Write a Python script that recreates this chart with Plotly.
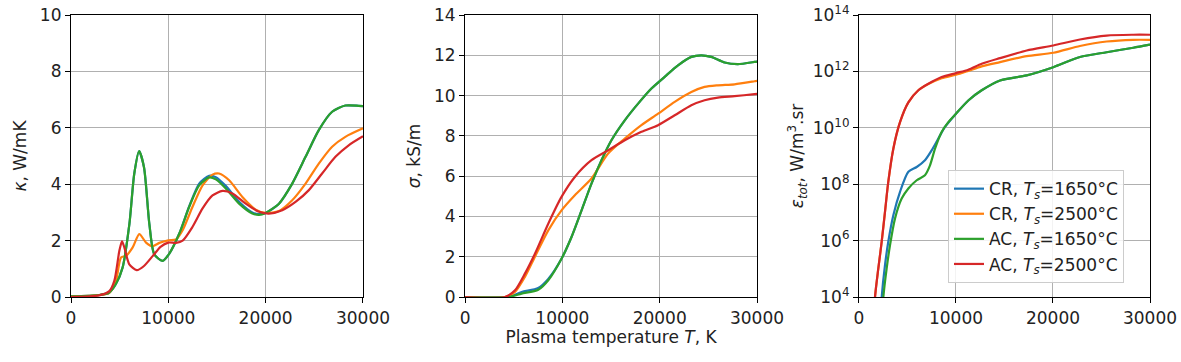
import plotly.graph_objects as go

names = ["CR, <i>T<sub>s</sub></i>=1650°C", "CR, <i>T<sub>s</sub></i>=2500°C",
         "AC, <i>T<sub>s</sub></i>=1650°C", "AC, <i>T<sub>s</sub></i>=2500°C"]
colors = ["#1f77b4", "#ff7f0e", "#2ca02c", "#d62728"]

# Panel 1: thermal conductivity kappa (W/mK)
k_T_green = [0, 2900, 3900, 4600, 5300, 6000, 6500, 7000, 7500, 8050, 8550, 9400, 10100, 11130, 12150, 13170, 14200, 14880, 15900, 17270, 18630, 19320, 20000, 21370, 22730, 24100, 25460, 26830, 28190, 29560, 30000]
k_green = [0.02, 0.07, 0.15, 0.45, 1.04, 2.59, 4.37, 5.17, 4.6, 2.59, 1.52, 1.28, 1.54, 2.25, 3.2, 3.96, 4.24, 4.17, 3.85, 3.31, 2.96, 2.91, 2.98, 3.31, 4.02, 4.97, 5.92, 6.57, 6.79, 6.78, 6.77]
k_blue = [0.02, 0.07, 0.15, 0.45, 1.04, 2.59, 4.37, 5.17, 4.6, 2.59, 1.52, 1.28, 1.54, 2.25, 3.22, 4.02, 4.3, 4.25, 3.94, 3.38, 3.0, 2.94, 2.98, 3.31, 4.02, 4.97, 5.92, 6.57, 6.79, 6.78, 6.77]
k_T_orange = [0, 2900, 3940, 4620, 5140, 5650, 6340, 7020, 7710, 8390, 9080, 10000, 10780, 11470, 12490, 13520, 14540, 15220, 16250, 17610, 18980, 20000, 21370, 22730, 24100, 25460, 26830, 28190, 30000]
k_orange = [0.02, 0.07, 0.15, 0.57, 1.4, 1.46, 1.76, 2.23, 1.93, 1.8, 1.92, 2.01, 2.04, 2.37, 3.2, 3.96, 4.34, 4.38, 4.14, 3.55, 3.1, 2.98, 3.05, 3.43, 4.02, 4.73, 5.33, 5.68, 5.98]
k_T_red = [0, 2900, 3940, 4450, 4970, 5240, 5480, 5990, 6750, 7500, 8390, 9200, 10000, 10780, 11470, 12490, 13520, 14540, 15560, 16590, 17950, 19320, 20340, 21710, 23070, 24440, 25800, 27170, 28530, 30000]
k_red = [0.0, 0.06, 0.21, 0.57, 1.64, 1.97, 1.76, 1.16, 0.95, 1.1, 1.45, 1.78, 1.93, 1.92, 2.0, 2.49, 3.14, 3.6, 3.76, 3.67, 3.31, 3.02, 2.96, 3.08, 3.37, 3.79, 4.38, 4.97, 5.38, 5.7]

# Panel 2: electrical conductivity sigma (kS/m)
s_T_green = [0, 4440, 5810, 7520, 8550, 9910, 10940, 11970, 12990, 14020, 15040, 16410, 17780, 19150, 20510, 21880, 23250, 24270, 25300, 26670, 28030, 29740, 30000]
s_green = [0, 0.0, 0.17, 0.36, 0.83, 1.9, 2.98, 4.3, 5.63, 6.79, 7.78, 8.77, 9.6, 10.35, 10.93, 11.5, 11.92, 12.0, 11.92, 11.64, 11.56, 11.67, 11.69]
s_blue = [0, 0.0, 0.25, 0.45, 0.9, 1.9, 2.98, 4.3, 5.63, 6.79, 7.78, 8.77, 9.6, 10.35, 10.93, 11.5, 11.92, 12.0, 11.92, 11.64, 11.56, 11.67, 11.69]
s_T_orange = [0, 4100, 5130, 6150, 7180, 8550, 9910, 11280, 12990, 14700, 16410, 18120, 19830, 21540, 23250, 24610, 25980, 27690, 29740, 30000]
s_orange = [0, 0.0, 0.25, 1.0, 2.0, 3.31, 4.3, 5.05, 5.88, 7.12, 7.86, 8.53, 9.1, 9.69, 10.18, 10.43, 10.51, 10.56, 10.71, 10.73]
s_red = [0, 0.0, 0.33, 1.16, 2.15, 3.64, 4.97, 5.96, 6.79, 7.28, 7.78, 8.2, 8.53, 9.02, 9.52, 9.77, 9.9, 9.97, 10.07, 10.08]

# Panel 3: total emission coefficient (W/m3.sr), given as log10 values
e_T_red = [1300, 1650, 1990, 2340, 2680, 3020, 3540, 4230, 5090, 6120, 7150, 8520, 10000, 11270, 12650, 14540, 17290, 20030, 22780, 25530, 28280, 30000]
e_red = [2.0, 4.0, 5.01, 5.96, 7.02, 8.08, 9.26, 10.2, 10.9, 11.33, 11.56, 11.8, 11.94, 12.06, 12.27, 12.47, 12.74, 12.92, 13.13, 13.27, 13.3, 13.3]
e_orange = [2.0, 4.0, 5.01, 5.96, 7.02, 8.08, 9.26, 10.2, 10.9, 11.33, 11.55, 11.76, 11.88, 12.02, 12.18, 12.33, 12.54, 12.66, 12.9, 13.06, 13.12, 13.12]
e_T_blue = [2000, 2340, 2680, 3020, 3540, 4230, 5090, 5950, 6800, 7490, 8180, 8870, 10000, 11270, 12650, 14540, 17290, 20030, 22780, 25530, 28280, 30000]
e_blue = [2.0, 4.0, 5.13, 5.96, 6.9, 7.73, 8.44, 8.61, 8.85, 9.2, 9.62, 10.03, 10.5, 10.97, 11.33, 11.68, 11.86, 12.15, 12.51, 12.68, 12.84, 12.95]
e_T_green = [2150, 2510, 2850, 3200, 3710, 4400, 5090, 5950, 6800, 7320, 7840, 8520, 9210, 10000, 11270, 12650, 14540, 17290, 20030, 22780, 25530, 28280, 30000]
e_green = [2.0, 4.0, 5.01, 5.84, 6.78, 7.49, 7.85, 8.14, 8.32, 8.67, 9.26, 9.85, 10.2, 10.5, 10.97, 11.33, 11.68, 11.86, 12.15, 12.51, 12.68, 12.84, 12.95]

log_ticks = [4, 6, 8, 10, 12, 14]

FONT = "DejaVu Sans"
FS = 17
fig = go.Figure()

def add(x, y, i, xa, ya, show, logy=False):
    yy = [10 ** v for v in y] if logy else y
    fig.add_trace(go.Scatter(x=x, y=yy, mode="lines", name=names[i],
                             line=dict(color=colors[i], width=2.2, shape="spline", smoothing=0.7),
                             xaxis=xa, yaxis=ya, showlegend=show))

add(k_T_green, k_blue, 0, "x", "y", False)
add(k_T_orange, k_orange, 1, "x", "y", False)
add(k_T_green, k_green, 2, "x", "y", False)
add(k_T_red, k_red, 3, "x", "y", False)

add(s_T_green, s_blue, 0, "x2", "y2", False)
add(s_T_orange, s_orange, 1, "x2", "y2", False)
add(s_T_green, s_green, 2, "x2", "y2", False)
add(s_T_orange, s_red, 3, "x2", "y2", False)

add(e_T_blue, e_blue, 0, "x3", "y3", True, True)
add(e_T_red, e_orange, 1, "x3", "y3", True, True)
add(e_T_green, e_green, 2, "x3", "y3", True, True)
add(e_T_red, e_red, 3, "x3", "y3", True, True)

axcommon = dict(showline=True, linecolor="black", linewidth=1.2, mirror=True,
                ticks="outside", ticklen=5, tickcolor="black", automargin=False,
                ticklabeloverflow="allow",
                showgrid=True, gridcolor="#b0b0b0", gridwidth=1, zeroline=False,
                tickfont=dict(size=FS, color="#222"))
xt = dict(range=[0, 30000], tickvals=[0, 10000, 20000, 30000], ticktext=["0", "10000", "20000", "30000"])

fig.update_layout(
    width=1181, height=362,
    margin=dict(l=71, r=31, t=15, b=65),
    plot_bgcolor="white", paper_bgcolor="white",
    font=dict(family=FONT, size=FS, color="#222"),
    xaxis=dict(domain=[0, 0.2706], anchor="y", **xt, **axcommon),
    xaxis2=dict(domain=[0.3652, 0.6358], anchor="y2", **xt, **axcommon,
                title=dict(text="Plasma temperature <i>T</i>, K", font=dict(size=FS), standoff=4)),
    xaxis3=dict(domain=[0.7303, 1.0], anchor="y3", **xt, **axcommon),
    yaxis=dict(domain=[0, 1], anchor="x", range=[0, 10], dtick=2, **axcommon,
               title=dict(text="<i>κ</i>, W/mK", font=dict(size=FS), standoff=8)),
    yaxis2=dict(domain=[0, 1], anchor="x2", range=[0, 14], dtick=2, **axcommon,
                title=dict(text="<i>σ</i>, kS/m", font=dict(size=FS), standoff=8)),
    yaxis3=dict(domain=[0, 1], anchor="x3", type="log", range=[4, 14],
                tickvals=[10 ** v for v in log_ticks],
                ticktext=["10<sup>%d</sup>" % v for v in log_ticks], **axcommon,
                title=dict(text="<i>ε<sub>tot</sub></i>, W/m<sup>3</sup>.sr", font=dict(size=FS), standoff=4)),
    legend=dict(x=0.8128, y=0.45, xanchor="left", yanchor="top",
                bgcolor="rgba(255,255,255,0.85)", bordercolor="#cccccc", borderwidth=1,
                font=dict(size=FS, color="#222"), tracegroupgap=0),
)

# remove the browser's default 8px body margin so the figure fills the window
fig.write_html("out.html", config={"displayModeBar": False},
               post_script="document.body.style.margin='0';document.body.style.overflow='hidden';")
